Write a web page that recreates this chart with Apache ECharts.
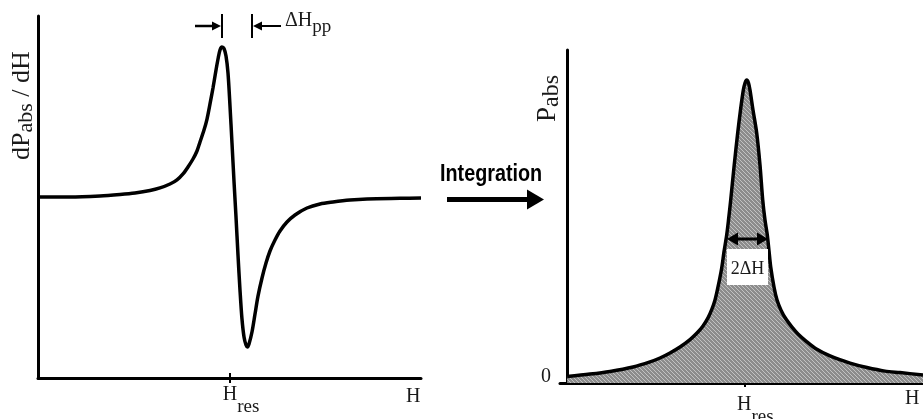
<!DOCTYPE html>
<html>
<head>
<meta charset="utf-8">
<script src="https://cdn.jsdelivr.net/npm/echarts@6/dist/echarts.min.js"></script>
<style>
  html, body { margin: 0; padding: 0; background: #fff; }
  #chart { width: 923px; height: 419px; }
</style>
</head>
<body>
<div id="chart"></div>
<script>
// Field axis in arbitrary units, resonance field H_res at 50.
const derivField = [0, 8.36, 16.19, 21.41, 25.33, 29.24, 31.85, 34.46, 36.29, 37.86, 39.16, 40.47, 41.51, 42.3,
  43.34, 44.13, 44.91, 45.69, 46.48, 47.0, 47.52, 48.04, 48.56, 49.09, 49.61, 50.13, 50.65, 51.17, 51.7, 52.22,
  52.74, 53.26, 53.79, 54.31, 54.7, 55.09, 55.87, 56.66, 57.44, 58.49, 59.53, 60.57, 61.88, 63.19, 65.01, 67.1,
  70.23, 73.63, 77.02, 81.46, 85.9, 94.52, 100];
// First-derivative signal dP_abs/dH (normalised to the positive lobe).
const derivSignal = [0, 0, 0.007, 0.017, 0.027, 0.043, 0.06, 0.086, 0.113, 0.153, 0.199, 0.252, 0.305, 0.365,
  0.444, 0.517, 0.617, 0.723, 0.842, 0.915, 0.975, 0.995, 0.985, 0.935, 0.822, 0.603, 0.358, 0.106, -0.133, -0.385,
  -0.617, -0.809, -0.928, -0.981, -0.995, -0.975, -0.895, -0.776, -0.657, -0.537, -0.438, -0.358, -0.285, -0.225,
  -0.166, -0.119, -0.073, -0.046, -0.033, -0.02, -0.013, -0.009, -0.007];

const absField = [0, 6.43, 12.05, 18.52, 23.3, 26.1, 28.91, 31.72, 34.53, 36.5, 38.18, 39.59, 40.71, 41.56, 42.4,
  43.44, 44.08, 44.84, 45.35, 45.97, 46.9, 47.93, 48.72, 49.51, 49.99, 50.46, 50.97, 51.39, 52.23, 53.27, 54.2,
  54.96, 55.6, 56.25, 56.73, 57.21, 58.13, 58.98, 60.1, 61.5, 63.19, 64.87, 67.12, 69.93, 73.87, 79.49, 84.26,
  89.32, 93.53, 100];
// Integrated absorption line P_abs (normalised to peak).
const absSignal = [0.002, 0.01, 0.019, 0.034, 0.051, 0.064, 0.081, 0.101, 0.126, 0.148, 0.172, 0.199, 0.229, 0.259,
  0.303, 0.367, 0.421, 0.478, 0.528, 0.596, 0.707, 0.821, 0.898, 0.965, 0.989, 0.999, 0.989, 0.965, 0.898, 0.821,
  0.713, 0.596, 0.528, 0.478, 0.424, 0.37, 0.303, 0.259, 0.225, 0.195, 0.168, 0.145, 0.121, 0.095, 0.071, 0.047,
  0.032, 0.02, 0.015, 0.007];

const resonanceTicks = [50];
const zeroTicks = [0];

const serif = '"Liberation Serif","Times New Roman","DejaVu Serif",serif';
const ink = '#1a1a1a';

// Hatched grey fill for the area under the absorption line.
function hatchPattern() {
  const c = document.createElement('canvas');
  c.width = 8; c.height = 8;
  const g = c.getContext('2d');
  g.fillStyle = '#8c8c8c';
  g.fillRect(0, 0, 8, 8);
  g.strokeStyle = '#c2c2c2';
  g.lineWidth = 1;
  for (let k = -8; k <= 8; k += 4) {
    g.beginPath();
    g.moveTo(k, 0);
    g.lineTo(k + 8, 8);
    g.stroke();
  }
  return { image: c, repeat: 'repeat' };
}

const measureCtx = document.createElement('canvas').getContext('2d');
function textWidth(t, size) {
  measureCtx.font = size + 'px ' + serif;
  return measureCtx.measureText(t).width;
}

// Text with subscripts: parts laid out along one baseline, dy shifts a part down.
function subscriptLabel(x, y, parts, rotation) {
  let cx = 0;
  const children = parts.map(p => {
    const el = {
      type: 'text',
      z: 110,
      x: cx,
      y: (p.dy || 0) - 0.3375 * p.size,
      style: {
        text: p.t, fill: ink, fontFamily: serif, fontSize: p.size,
        align: 'left', verticalAlign: 'middle'
      }
    };
    cx += textWidth(p.t, p.size);
    return el;
  });
  return { type: 'group', x, y, rotation: rotation || 0, z: 110, children };
}

const blackLine = { color: '#000', width: 3 };

const option = {
  animation: false,
  backgroundColor: '#fff',
  grid: [
    { left: 38, top: 16, width: 383, height: 362 },
    { left: 560, top: 50, right: 0, height: 333 }
  ],
  xAxis: [
    {
      gridIndex: 0, type: 'value', min: 0, max: 100,
      axisLine: { onZero: false, lineStyle: blackLine },
      axisTick: { customValues: resonanceTicks, length: 5, lineStyle: { color: '#000', width: 2 } },
      axisLabel: { show: false }, splitLine: { show: false }
    },
    {
      gridIndex: 0, type: 'value', min: 0, max: 100, position: 'bottom',
      axisLine: { show: false, onZero: false },
      axisTick: { customValues: resonanceTicks, inside: true, length: 5, lineStyle: { color: '#000', width: 2 } },
      axisLabel: { show: false }, splitLine: { show: false }
    },
    {
      gridIndex: 1, type: 'value', min: -2, max: 100,
      axisLine: { onZero: false, lineStyle: blackLine },
      axisTick: { customValues: resonanceTicks, length: 4, lineStyle: { color: '#000', width: 2 } },
      axisLabel: { show: false }, splitLine: { show: false }
    },
    {
      gridIndex: 1, type: 'value', min: -2, max: 100, position: 'bottom',
      axisLine: { show: false, onZero: false },
      axisTick: { customValues: resonanceTicks, inside: true, length: 8, lineStyle: { color: '#000', width: 2 } },
      axisLabel: { show: false }, splitLine: { show: false }
    }
  ],
  yAxis: [
    {
      gridIndex: 0, type: 'value', min: -1.2, max: 1.2,
      axisLine: { show: true, lineStyle: blackLine },
      axisTick: { show: false }, axisLabel: { show: false }, splitLine: { show: false }
    },
    {
      gridIndex: 1, type: 'value', min: -0.02, max: 1.1,
      axisLine: { show: true, onZero: true, lineStyle: blackLine },
      axisTick: { show: false },
      axisLabel: {
        customValues: zeroTicks, margin: 9, color: ink,
        fontFamily: serif, fontSize: 20, formatter: v => String(v)
      },
      splitLine: { show: false }
    }
  ],
  series: [
    {
      type: 'line', xAxisIndex: 0, yAxisIndex: 0,
      data: derivField.map((h, i) => [h, derivSignal[i]]),
      smooth: 0.3, symbol: 'none',
      lineStyle: { color: '#000', width: 3.5 }
    },
    {
      type: 'line', xAxisIndex: 2, yAxisIndex: 1,
      data: absField.map((h, i) => [h, absSignal[i]]),
      smooth: 0.3, symbol: 'none',
      lineStyle: { color: '#000', width: 3.5 },
      areaStyle: { color: hatchPattern(), opacity: 1, origin: 'start' }
    }
  ],
  graphic: [
    // axis titles
    subscriptLabel(31, 160, [{ t: 'dP', size: 26 }, { t: 'abs', size: 22, dy: 3 }, { t: ' / dH', size: 26 }], Math.PI / 2),
    subscriptLabel(557, 122, [{ t: 'P', size: 27 }, { t: 'abs', size: 24, dy: 3 }], Math.PI / 2),
    // field labels
    subscriptLabel(222.7, 401.7, [{ t: 'H', size: 20 }, { t: 'res', size: 19, dy: 11.6 }]),
    subscriptLabel(406, 403, [{ t: 'H', size: 20 }]),
    subscriptLabel(737, 411.6, [{ t: 'H', size: 20 }, { t: 'res', size: 19, dy: 11.6 }]),
    subscriptLabel(905, 405, [{ t: 'H', size: 20 }]),
    // peak-to-peak width marker
    { type: 'line', z: 100, shape: { x1: 195, y1: 26, x2: 215, y2: 26 }, style: { stroke: '#000', lineWidth: 2.5 } },
    { type: 'polygon', z: 100, shape: { points: [[212, 21.5], [221, 26], [212, 30.5]] }, style: { fill: '#000' } },
    { type: 'line', z: 100, shape: { x1: 222, y1: 14, x2: 222, y2: 38 }, style: { stroke: '#000', lineWidth: 2 } },
    { type: 'line', z: 100, shape: { x1: 252, y1: 14, x2: 252, y2: 38 }, style: { stroke: '#000', lineWidth: 2 } },
    { type: 'polygon', z: 100, shape: { points: [[253, 26], [262, 21.5], [262, 30.5]] }, style: { fill: '#000' } },
    { type: 'line', z: 100, shape: { x1: 259, y1: 26, x2: 281, y2: 26 }, style: { stroke: '#000', lineWidth: 2 } },
    subscriptLabel(285, 27, [{ t: 'ΔH', size: 20 }, { t: 'pp', size: 19, dy: 6 }]),
    // integration arrow
    {
      type: 'text', x: 440, y: 175, scaleX: 0.86, z: 100,
      style: { text: 'Integration', fill: '#000', fontFamily: '"Liberation Sans",Arial,sans-serif',
        fontWeight: 'bold', fontSize: 23, align: 'left', verticalAlign: 'middle' }
    },
    { type: 'line', z: 100, shape: { x1: 447, y1: 199.5, x2: 530, y2: 199.5 }, style: { stroke: '#000', lineWidth: 5 } },
    { type: 'polygon', z: 100, shape: { points: [[527, 189.5], [544, 199.5], [527, 209.5]] }, style: { fill: '#000' } },
    // linewidth marker
    { type: 'rect', z: 100, shape: { x: 727, y: 249, width: 41, height: 36 }, style: { fill: '#fff' } },
    { type: 'line', z: 101, shape: { x1: 734, y1: 239, x2: 761, y2: 239 }, style: { stroke: '#000', lineWidth: 3 } },
    { type: 'polygon', z: 101, shape: { points: [[727, 239], [738, 232.5], [738, 245.5]] }, style: { fill: '#000' } },
    { type: 'polygon', z: 101, shape: { points: [[768, 239], [757, 232.5], [757, 245.5]] }, style: { fill: '#000' } },
    subscriptLabel(747.5 - textWidth('2ΔH', 18) / 2, 275.5, [{ t: '2ΔH', size: 18 }])
  ]
};

const chart = echarts.init(document.getElementById('chart'), null, { renderer: 'canvas' });
chart.setOption(option);
</script>
</body>
</html>
